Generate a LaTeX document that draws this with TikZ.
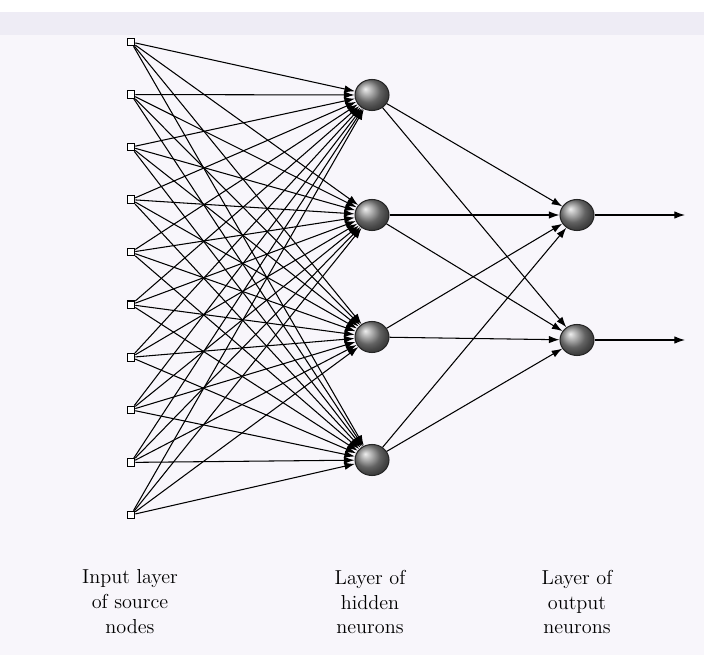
\documentclass[tikz,border=0pt]{standalone}
\usepackage{tikz}
\usetikzlibrary{arrows,arrows.meta,shapes.geometric}
\definecolor{paper}{RGB}{248,246,251}
\definecolor{band}{RGB}{238,236,245}

\begin{document}
\begin{tikzpicture}[x=0.02cm, y=-0.02cm, >={Latex[length=6pt,width=4.2pt]},
  src/.style={draw, rectangle, fill=white, minimum size=0.15cm, inner sep=0pt, line width=0.6pt},
  neuron/.style={ellipse, minimum width=0.68cm, minimum height=0.62cm, inner sep=0pt,
                 draw=black!85, line width=0.6pt, shading=ball, ball color=black!45},
  syn/.style={->, line width=0.6pt},
  caption/.style={align=center, font=\fontsize{11.5}{14.2}\selectfont}]
  \useasboundingbox (0,0) rectangle (704,655);
  \fill[paper] (0,12) rectangle (704,655);
  \fill[band] (0,12) rectangle (704,35);

  % the three layers
  \foreach \k in {1,...,10}
    \node[src] (i-\k) at (131,{42+(\k-1)*52.55}) {};
  \foreach \k/\y in {1/95, 2/215, 3/337, 4/460}
    \node[neuron] (h-\k) at (372,\y) {};
  \foreach \k/\y in {1/215, 2/340}
    \node[neuron] (o-\k) at (577,\y) {};
  \coordinate (out-1) at (685,215);
  \coordinate (out-2) at (685,340);

  % fully connected weights
  \foreach \a in {1,...,10}
    \foreach \b in {1,...,4}
      \path (i-\a) edge[syn] (h-\b);
  \foreach \a in {1,...,4}
    \foreach \b in {1,2}
      \path (h-\a) edge[syn] (o-\b);
  \foreach \b in {1,2}
    \path (o-\b) edge[syn] (out-\b);

  \node[caption] (lbl-in)  at (130,602) {Input layer\\of source\\nodes};
  \node[caption] (lbl-hid) at (370,602) {Layer of\\hidden\\neurons};
  \node[caption] (lbl-out) at (577,602) {Layer of\\output\\neurons};
\end{tikzpicture}
\end{document}
